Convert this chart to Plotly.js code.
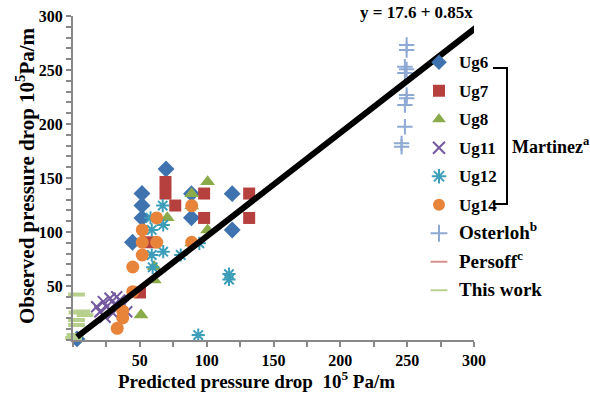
<!DOCTYPE html>
<html><head><meta charset="utf-8">
<script src="https://cdn.plot.ly/plotly-3.0.1.min.js"></script>
<style>html,body{margin:0;padding:0;background:#fff}#chart{width:590px;height:395px}</style>
</head><body><div id="chart"></div>
<script>
const ug6X = [69.6, 51.6, 51.6, 51.6, 44.5, 88.6, 88.6, 119.1, 119.1, 3];
const ug6Y = [158.3, 135.6, 124.5, 113, 90.5, 135.5, 113.2, 135.5, 101.9, 1];
const ug7X = [69.2, 69.2, 76.5, 98.1, 98.1, 131.8, 131.8, 57.1, 50.1];
const ug7Y = [146.3, 135.6, 124.5, 135.6, 113, 135.6, 113, 90.5, 44];
const ug8X = [100.7, 88.8, 88.8, 70.5, 100.7, 60.8, 60.8, 50.9, 88.8];
const ug8Y = [146.6, 135.5, 124, 113.2, 101.9, 67.9, 55.6, 23.1, 89.8];
const ug11X = [17.7, 22.7, 27.7, 32.7, 20.2, 25.2, 37.6, 40.2, 29.9, 35, 24, 31];
const ug11Y = [30.8, 35.5, 38.6, 40.1, 26.2, 30.8, 32.4, 26.2, 25, 37, 21, 33];
const ug12X = [67.1, 58, 67.5, 58.9, 58.9, 67.5, 59.6, 80.6, 94.5, 116.7, 116.7, 93.7];
const ug12Y = [124.5, 113.2, 106.5, 101.9, 78.7, 81.8, 67.3, 78.7, 89.5, 61, 56, 4.6];
const ug14X = [88.8, 62.6, 51.8, 51.8, 62.6, 88.8, 51.8, 44.7, 44.7, 37.2, 37.2, 33.1];
const ug14Y = [124.4, 113, 101.9, 90.5, 90.5, 90.5, 78.7, 67.6, 44.7, 26.9, 20.4, 10.8];
const osterlohX = [249.6, 249.6, 248.3, 249.6, 248.3, 249.6, 249.6, 248.3, 248.3, 245.8, 245.8];
const osterlohY = [273.1, 268.5, 253, 250.6, 247.2, 226.9, 223.8, 217.6, 197.5, 182.1, 178.9];
const persoffX = [1.5, 2.6];
const persoffY = [4.6, 13.9];
const thisWorkX = [2.6, 3, 6.7, 9, 2.6, 2.6, 1.5, 0.4];
const thisWorkY = [42.1, 25.5, 26.4, 23.1, 18.5, 13.9, 4.6, 1.9];
const fitX = [3, 312];
const fitY = [2.8, 299.4];
const fitLabel = 'y = 17.6 + 0.85x';
const xTicks = [0, 50, 100, 150, 200, 250, 300];
const xTickText = ['', '50', '100', '150', '200', '250', '300'];
const yTicks = [0, 50, 100, 150, 200, 250, 300];
const yTickText = ['', '50', '100', '150', '200', '250', '300'];

const F = 'Liberation Serif';
function sc(name, x, y, sym, color, size, lw, group) {
  const open = sym.indexOf('open') >= 0;
  return {type:'scatter', mode:'markers', x:x, y:y, name:name, legendgroup:group,
    marker:{symbol:sym, size:size, color:color,
      line:{color:color, width: open ? lw : 0}}, cliponaxis:false};
}
const big = s => '<b><span style="font-size:19px">' + s + '</span></b>';
const sm = s => '<b><span style="font-size:17px">' + s + '</span></b>';
const traces = [
  sc(sm('Ug6'), ug6X, ug6Y, 'diamond', '#3F73B0', 13, 0, 'a'),
  sc(sm('Ug7'), ug7X, ug7Y, 'square', '#B5403E', 12, 0, 'b'),
  sc(sm('Ug8'), ug8X, ug8Y, 'triangle-up', '#8BAA4A', 13, 0, 'c'),
  sc(sm('Ug11'), ug11X, ug11Y, 'x-thin-open', '#7459A0', 11, 2, 'd'),
  sc(sm('Ug12'), ug12X, ug12Y, 'asterisk-open', '#3C9EB8', 11, 2, 'e'),
  sc(sm('Ug14'), ug14X, ug14Y, 'circle', '#E8843A', 13, 0, 'f'),
  sc(big('Osterloh<sup>b</sup>'), osterlohX, osterlohY, 'cross-thin-open', '#8EA9D4', 11, 2, 'g'),
  sc(big('Persoff<sup>c</sup>'), persoffX, persoffY, 'line-ew-open', '#D9918F', 10, 4, 'h'),
  sc(big('This work'), thisWorkX, thisWorkY, 'line-ew-open', '#B8D08E', 12, 4, 'i'),
  {type:'scatter', mode:'lines', x:fitX, y:fitY, line:{color:'#000', width:6}, showlegend:false, cliponaxis:false, hoverinfo:'skip'}
];

const px2y = p => (340 - p) / 324;
const px2x = p => (p - 73) / 401;
const layout = {
  width:590, height:395,
  margin:{l:73, r:116, t:16, b:55},
  paper_bgcolor:'#fff', plot_bgcolor:'#fff',
  font:{family:F, color:'#000', size:15},
  xaxis:{range:[0,300], tickvals:xTicks, ticktext:xTickText.map(t => '<b>'+t+'</b>'), showgrid:false, zeroline:false,
    showline:true, linecolor:'#888', linewidth:2, ticks:'outside', ticklen:5, tickcolor:'#888', tickwidth:2,
    minor:{dtick:25, tick0:0, ticks:'outside', ticklen:5, tickcolor:'#888', tickwidth:2, showgrid:false},
    tickfont:{family:F, size:16, color:'#000'}},
  yaxis:{range:[0,300], tickvals:yTicks, ticktext:yTickText.map(t => '<b>'+t+'</b>'), showgrid:false, zeroline:false,
    showline:true, linecolor:'#888', linewidth:2, ticks:'outside', ticklen:5, tickcolor:'#888', tickwidth:2,
    minor:{dtick:10, tick0:0, ticks:'outside', ticklen:5, tickcolor:'#888', tickwidth:2, showgrid:false},
    tickfont:{family:F, size:16, color:'#000'}},
  showlegend:true,
  legend:{x:px2x(419), xanchor:'left', y:px2y(46), yanchor:'top', bgcolor:'rgba(0,0,0,0)',
    font:{family:F, size:15, color:'#000'}, traceorder:'grouped', tracegroupgap:6,
    itemwidth:30, itemsizing:'constant'},
  annotations:[
    {xref:'paper', yref:'paper', x:px2x(416), y:px2y(13), xanchor:'center', yanchor:'middle',
      text:'<b>'+fitLabel+'</b>', showarrow:false, font:{family:F, size:17, color:'#000'}},
    {xref:'paper', yref:'paper', x:px2x(510), y:px2y(145), xanchor:'left', yanchor:'middle',
      text:'<b>Martinez<sup>a</sup></b>', showarrow:false, font:{family:F, size:18, color:'#000'}},
    {xref:'paper', yref:'paper', x:px2x(256), y:px2y(380), xanchor:'center', yanchor:'middle',
      text:'<b>Predicted pressure drop&nbsp;&nbsp;10<sup>5</sup> Pa/m</b>', showarrow:false, font:{family:F, size:19, color:'#000'}},
    {xref:'paper', yref:'paper', x:px2x(25), y:px2y(176), xanchor:'center', yanchor:'middle', textangle:-90,
      text:'<b>Observed pressure drop 10<sup>5</sup>Pa/m</b>', showarrow:false, font:{family:F, size:21, color:'#000'}}
  ],
  shapes:[
    {type:'path', xref:'paper', yref:'paper',
      path:'M '+px2x(493)+' '+px2y(68)+' L '+px2x(507)+' '+px2y(68)+' L '+px2x(507)+' '+px2y(204)+' L '+px2x(493)+' '+px2y(204),
      line:{color:'#000', width:2}}
  ]
};
Plotly.newPlot('chart', traces, layout, {staticPlot:true});
</script></body></html>
